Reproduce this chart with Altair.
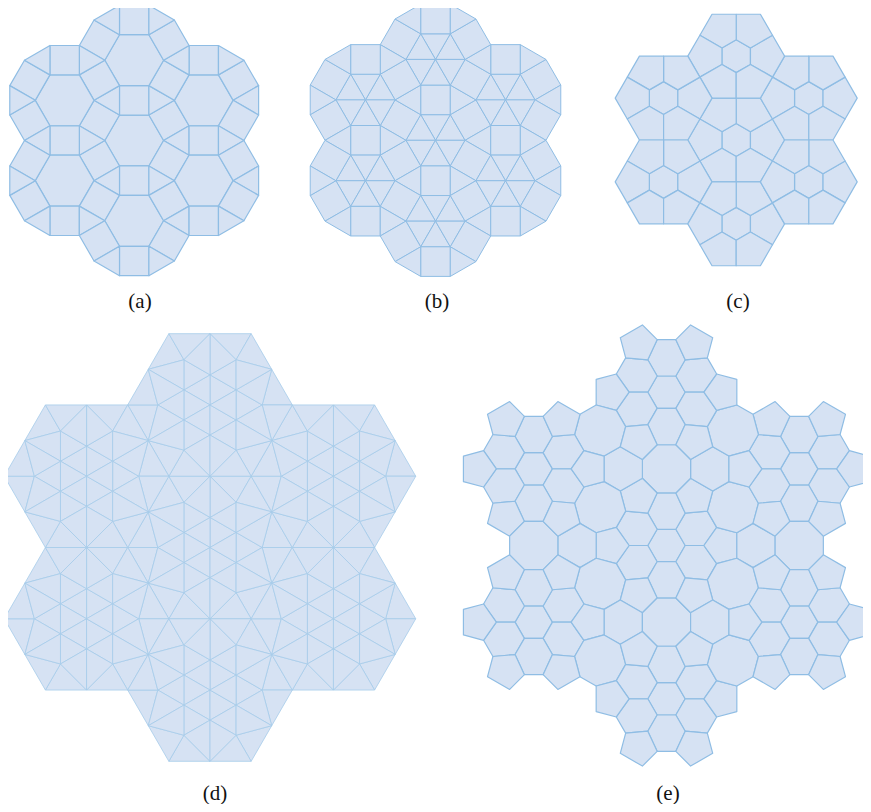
import math
import altair as alt

# ---------------- data: labels and tiling parameters ----------------
LABELS = ["(a)", "(b)", "(c)", "(d)", "(e)"]
FLOWER_DIRS = [30, 90, 150, 210, 270, 330]   # directions of the six outer cells / edge normals
VERTEX_DIRS = [0, 60, 120, 180, 240, 300]    # hexagon vertex directions (flat-top)
R_SMALL_C = 0.34     # (c) inner small hexagon radius (edge = 1)
R_INNER_D = 0.366    # (d) inner ring radius
R_OUTER_D = 0.634    # (d) outer ring radius
SQ3 = math.sqrt(3)

# ---------------- layout / style ----------------
FILL = "#d6e2f3"
STROKE = "#8fbde4"
STROKE_D = "#a6cbea"
# panel centre (page px) and edge length (px)
PLACE = {
    "a": (134.2, 140.5, 29.4),
    "b": (435.5, 140.3, 29.6),
    "c": (736.2, 140.0, 48.4),
    "d": (210.0, 547.5, 82.3),
    "e": (666.5, 545.5, 88.5),
}
LABEL_POS = [(140, 302), (437, 302), (738, 302), (215, 794), (668, 794)]
M = 8  # page margin


def P(r, deg, c=(0.0, 0.0)):
    t = math.radians(deg)
    return (c[0] + r * math.cos(t), c[1] + r * math.sin(t))


def add(p, q):
    return (p[0] + q[0], p[1] + q[1])


def centroid(poly):
    n = len(poly)
    return (sum(p[0] for p in poly) / n, sum(p[1] for p in poly) / n)


def panel_ab(split_hex):
    dist = 1 + SQ3
    centers = [(0.0, 0.0)] + [P(dist, a) for a in FLOWER_DIRS]
    tiles = {}

    def put(poly):
        cx, cy = centroid(poly)
        key = (round(cx, 3) + 0.0, round(cy, 3) + 0.0, len(poly))
        tiles.setdefault(key, poly)

    for c in centers:
        V = [P(1, a, c) for a in VERTEX_DIRS]
        N = [P(1, a) for a in FLOWER_DIRS]
        if split_hex:
            for k in range(6):
                put([c, V[k], V[(k + 1) % 6]])
        else:
            put(V)
        for k in range(6):
            k1 = (k + 1) % 6
            put([V[k], V[k1], add(V[k1], N[k]), add(V[k], N[k])])
            put([V[k], add(V[k], N[k]), add(V[k], N[k - 1])])
    return list(tiles.values())


def hex_centers_7():
    return [(0.0, 0.0)] + [P(SQ3, a) for a in FLOWER_DIRS]


def panel_c():
    tiles = []
    for c in hex_centers_7():
        U = [P(R_SMALL_C, a, c) for a in FLOWER_DIRS]
        Mi = [P(SQ3 / 2, a, c) for a in FLOWER_DIRS]
        V = [P(1, a, c) for a in VERTEX_DIRS]
        tiles.append(U)
        for k in range(6):
            tiles.append([U[k - 1], Mi[k - 1], V[k], Mi[k], U[k]])
    return tiles


def panel_d():
    tris = []
    for c in hex_centers_7():
        A = [P(R_INNER_D, a, c) for a in FLOWER_DIRS]
        B = [P(R_OUTER_D, a, c) for a in VERTEX_DIRS]
        V = [P(1, a, c) for a in VERTEX_DIRS]
        Mi = [P(SQ3 / 2, a, c) for a in FLOWER_DIRS]
        for j in range(6):
            tris.append([c, A[j], A[(j + 1) % 6]])
            tris.append([A[j - 1], A[j], B[j]])
            tris.append([V[j], Mi[j], B[j]])
            tris.append([V[j], B[j], Mi[j - 1]])
            tris.append([Mi[j], B[j], A[j]])
            tris.append([Mi[j - 1], B[j], A[j - 1]])
    return tris


def panel_e(tris):
    def key(p):
        return (round(p[0], 4) + 0.0, round(p[1], 4) + 0.0)

    inc, pts = {}, {}
    for t in tris:
        cen = centroid(t)
        for i, p in enumerate(t):
            a, b = t[(i + 1) % 3], t[(i + 2) % 3]
            ax, ay = a[0] - p[0], a[1] - p[1]
            bx, by = b[0] - p[0], b[1] - p[1]
            ang = abs(math.atan2(ax * by - ay * bx, ax * bx + ay * by))
            k = key(p)
            pts[k] = p
            inc.setdefault(k, []).append((ang, cen))
    tiles = []
    for k, lst in inc.items():
        if abs(sum(a for a, _ in lst) - 2 * math.pi) > 1e-6:
            continue
        p = pts[k]
        cs = sorted((c for _, c in lst), key=lambda c: math.atan2(c[1] - p[1], c[0] - p[0]))
        tiles.append(cs)
    return tiles


def features(polys, name):
    # place the unit-edge tiling of one panel in the shared plane
    cx, cy, s = PLACE[name]
    out = []
    for poly in polys:
        ring = [[round(cx - M + s * x, 3), round(cy - M - s * y, 3)] for x, y in poly]
        ring.append(ring[0])
        out.append({"type": "Feature", "properties": {"panel": name},
                    "geometry": {"type": "Polygon", "coordinates": [ring]}})
    return out


def layer(polys, name, stroke, sw):
    return alt.Chart(alt.Data(values=features(polys, name))).mark_geoshape(
        fill=FILL, stroke=stroke, strokeWidth=sw, strokeJoin="round"
    ).project(type="identity", scale=1, translate=[0, 0])


tris_d = panel_d()
layers = [
    layer(panel_ab(False), "a", STROKE, 1.2),
    layer(panel_ab(True), "b", STROKE, 1.0),
    layer(panel_c(), "c", STROKE, 1.2),
    layer(tris_d, "d", STROKE_D, 0.8),
    layer(panel_e(tris_d), "e", STROKE, 1.2),
]
for lab, (x, y) in zip(LABELS, LABEL_POS):
    layers.append(
        alt.Chart(alt.Data(values=[{"t": lab}])).mark_text(
            font="Liberation Serif", fontSize=21, color="#111111",
            align="center", baseline="middle"
        ).encode(text="t:N", x=alt.value(x - M), y=alt.value(y - M))
    )

chart = alt.layer(*layers).properties(
    width=855, height=796, padding=0, autosize=alt.AutoSizeParams(type="none")
).configure_view(strokeWidth=0)

chart.save("out.html", embed_options={"renderer": "svg", "actions": False})
